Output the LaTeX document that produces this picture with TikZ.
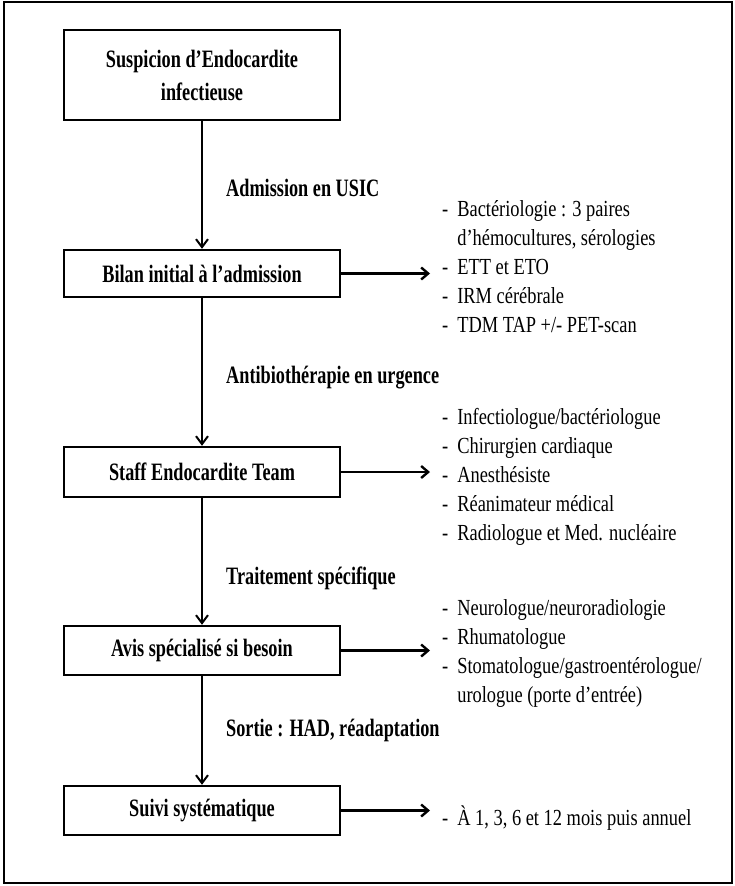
\documentclass[tikz,border=0pt]{standalone}
\usepackage{fontspec}
\setmainfont[FakeStretch=0.8]{Liberation Serif}
\newfontfamily\boldserif[FakeStretch=0.73,Ligatures=TeX]{Liberation Serif}
\usetikzlibrary{arrows.meta}
\tikzset{
  stepbox/.style={draw, line width=2.4pt, minimum width=276pt, inner sep=0pt, align=center,
    font=\boldserif\fontsize{25}{33}\selectfont\bfseries},
  flow/.style={line width=2pt, -{Straight Barb[length=8pt,width=12pt]}},
  side/.style={line width=2.4pt, -{Straight Barb[length=7pt,width=12pt]}},
  elabel/.style={anchor=west, inner sep=0pt, font=\boldserif\fontsize{25}{28}\selectfont\bfseries},
  plist/.style={anchor=west, inner sep=0pt, font=\fontsize{23}{29}\selectfont}
}
\newcommand{\dl}{-\hspace{9pt}}
\begin{document}
\begin{tikzpicture}[x=1pt,y=-1pt]
\useasboundingbox (0,0) rectangle (735,886);
\draw[line width=2.5pt] (4,2) rectangle (732,883);
% boxes
\node[stepbox, minimum height=90pt] (b1) at (202,75) {Suspicion d’Endocardite\\infectieuse};
\node[stepbox, minimum height=47pt] (b2) at (202,273.5) {Bilan initial à l’admission};
\node[stepbox, minimum height=50pt] (b3) at (202,472) {Staff Endocardite Team};
\node[stepbox, minimum height=49pt] (b4) at (202,650.5) {Avis spécialisé si besoin};
\node[stepbox, minimum height=49pt] (b5) at (202,810.5) {Suivi systématique};
% vertical flow
\draw[flow] (b1) -- (b2);
\draw[flow] (b2) -- (b3);
\draw[flow] (b3) -- (b4);
\draw[flow] (b4) -- (b5);
% edge labels
\node[elabel] (l1) at (226,188) {Admission en USIC};
\node[elabel] (l2) at (226,378) {Antibiothérapie en urgence};
\node[elabel] (l3) at (226,578) {Traitement spécifique};
\node[elabel] (l4) at (226,730) {Sortie : HAD, réadaptation};
% side lists
\node[plist] (s1) at (442,268.5) {\begin{tabular}{@{}l@{}}
\dl Bactériologie : 3 paires\\
\phantom{\dl}d’hémocultures, sérologies\\
\dl ETT et ETO\\
\dl IRM cérébrale\\
\dl TDM TAP +/- PET-scan
\end{tabular}};
\node[plist] (s2) at (442,477) {\begin{tabular}{@{}l@{}}
\dl Infectiologue/bactériologue\\
\dl Chirurgien cardiaque\\
\dl Anesthésiste\\
\dl Réanimateur médical\\
\dl Radiologue et Med. nucléaire
\end{tabular}};
\node[plist] (s3) at (442,653) {\begin{tabular}{@{}l@{}}
\dl Neurologue/neuroradiologie\\
\dl Rhumatologue\\
\dl Stomatologue/gastroentérologue/\\
\phantom{\dl}urologue (porte d’entrée)
\end{tabular}};
\node[plist] (s4) at (442,818) {\dl À 1, 3, 6 et 12 mois puis annuel};
% side arrows
\coordinate (tx) at (430,0);
\draw[side] (b2.east) -- (b2.east -| tx);
\draw[side] (b3.east) -- (b3.east -| tx);
\draw[side] (b4.east) -- (b4.east -| tx);
\draw[side] (b5.east) -- (b5.east -| tx);
\end{tikzpicture}
\end{document}
